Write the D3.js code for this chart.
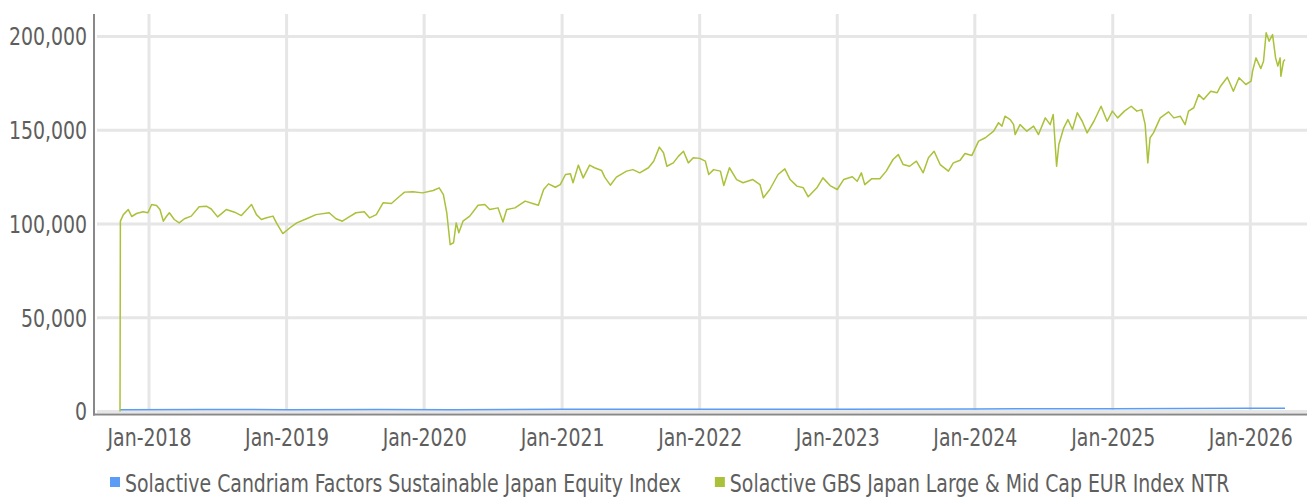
<!DOCTYPE html>
<html>
<head>
<meta charset="utf-8">
<script src="https://cdn.jsdelivr.net/npm/d3@7"></script>
<style>
	body { margin: 0; background: #fff; }
	svg text {
		font-family: 'Liberation Sans Narrow', 'DejaVu Sans Condensed', 'Roboto Condensed', sans-serif;
		font-stretch: condensed;
		fill: #5e5e5e;
		font-size: 24px;
	}
</style>
</head>
<body>
<script>
// data
var seriesNames = [
	'Solactive Candriam Factors Sustainable Japan Equity Index',
	'Solactive GBS Japan Large & Mid Cap EUR Index NTR'
];
var seriesColors = ['#5a9cf6', '#a9c23a'];

var yTicks = [0, 50000, 100000, 150000, 200000];
var xTicks = ['2018-01-01', '2019-01-01', '2020-01-01', '2021-01-01', '2022-01-01',
	'2023-01-01', '2024-01-01', '2025-01-01', '2026-01-01'];

var candriamSeries = [
	['2017-10-16', 1000], ['2018-06-01', 1040], ['2019-01-01', 980], ['2019-09-01', 1060],
	['2020-03-15', 930], ['2021-01-01', 1150], ['2022-01-01', 1230], ['2023-01-01', 1180],
	['2024-01-01', 1400], ['2025-01-01', 1520], ['2026-01-01', 1720], ['2026-04-03', 1700]
];

var gbsSeries = [
	['2017-10-16', 0], ['2017-10-17', 101500], ['2017-10-25', 105000], ['2017-11-07', 107700],
	['2017-11-16', 104000], ['2017-11-29', 105600], ['2017-12-16', 106500], ['2017-12-29', 106000],
	['2018-01-08', 110400], ['2018-01-21', 109900], ['2018-01-30', 107700], ['2018-02-08', 101500],
	['2018-02-16', 104000], ['2018-02-24', 106000], ['2018-03-09', 102400], ['2018-03-22', 100600],
	['2018-04-05', 102800], ['2018-04-23', 104200], ['2018-05-14', 109200], ['2018-06-02', 109500],
	['2018-06-15', 108000], ['2018-07-02', 103800], ['2018-07-25', 107700], ['2018-08-16', 106300],
	['2018-09-03', 104500], ['2018-09-30', 110400], ['2018-10-13', 105000], ['2018-10-26', 102400],
	['2018-11-09', 103300], ['2018-11-26', 104200], ['2018-12-05', 100600], ['2018-12-22', 94900],
	['2019-01-10', 98000], ['2019-01-28', 100600], ['2019-02-23', 102800], ['2019-03-20', 105000],
	['2019-04-24', 106000], ['2019-05-12', 102800], ['2019-05-29', 101500], ['2019-06-16', 103800],
	['2019-07-04', 106000], ['2019-07-26', 106500], ['2019-08-09', 103300], ['2019-08-27', 105000],
	['2019-09-14', 111300], ['2019-10-06', 110900], ['2019-10-28', 114800], ['2019-11-10', 117000],
	['2019-12-02', 117200], ['2019-12-28', 116600], ['2020-01-25', 117900], ['2020-02-10', 119300],
	['2020-02-21', 115700], ['2020-03-01', 106000], ['2020-03-10', 89000], ['2020-03-19', 90000],
	['2020-03-26', 100600], ['2020-04-02', 95300], ['2020-04-13', 101500], ['2020-05-01', 104200],
	['2020-05-23', 110000], ['2020-06-10', 110400], ['2020-06-23', 107700], ['2020-07-15', 108600],
	['2020-07-28', 101100], ['2020-08-07', 107700], ['2020-08-29', 108600], ['2020-09-25', 112200],
	['2020-10-17', 110800], ['2020-10-30', 110000], ['2020-11-13', 118400], ['2020-11-26', 121400],
	['2020-12-14', 119600], ['2020-12-27', 121000], ['2021-01-10', 126400], ['2021-01-23', 126800],
	['2021-01-30', 122000], ['2021-02-13', 131400], ['2021-02-26', 124600], ['2021-03-15', 131400],
	['2021-03-28', 130000], ['2021-04-16', 128500], ['2021-04-24', 125000], ['2021-05-09', 120700],
	['2021-05-25', 125000], ['2021-06-21', 128200], ['2021-07-08', 129000], ['2021-07-26', 127300],
	['2021-08-18', 130000], ['2021-09-01', 133500], ['2021-09-16', 141000], ['2021-09-27', 138000],
	['2021-10-06', 130800], ['2021-10-23', 132600], ['2021-11-06', 136200], ['2021-11-19', 138800],
	['2021-12-02', 132600], ['2021-12-15', 135300], ['2022-01-01', 135000], ['2022-01-16', 133500],
	['2022-01-25', 126400], ['2022-02-07', 129000], ['2022-02-25', 128200], ['2022-03-06', 120500],
	['2022-03-21', 130000], ['2022-04-09', 123700], ['2022-04-26', 122000], ['2022-05-22', 123700],
	['2022-06-10', 121000], ['2022-06-19', 114000], ['2022-07-06', 118400], ['2022-07-28', 126400],
	['2022-08-15', 129400], ['2022-08-29', 123700], ['2022-09-16', 120200], ['2022-10-03', 119300],
	['2022-10-16', 114500], ['2022-11-08', 119300], ['2022-11-24', 124600], ['2022-12-13', 120500],
	['2023-01-01', 118400], ['2023-01-18', 123700], ['2023-02-10', 125200], ['2023-02-23', 122800],
	['2023-03-06', 127300], ['2023-03-15', 121000], ['2023-04-02', 124100], ['2023-04-24', 124100],
	['2023-05-11', 128200], ['2023-05-29', 134400], ['2023-06-12', 137000], ['2023-06-25', 131700],
	['2023-07-12', 130800], ['2023-07-30', 133500], ['2023-08-17', 127300], ['2023-08-31', 135300],
	['2023-09-15', 138800], ['2023-10-01', 131700], ['2023-10-23', 128200], ['2023-11-05', 132600],
	['2023-11-23', 134000], ['2023-12-06', 137600], ['2023-12-24', 136500], ['2024-01-11', 144200],
	['2024-01-29', 146000], ['2024-02-20', 149500], ['2024-03-04', 154000], ['2024-03-13', 152200],
	['2024-03-21', 157500], ['2024-04-04', 155700], ['2024-04-13', 153000], ['2024-04-17', 147700],
	['2024-04-30', 153000], ['2024-05-18', 149500], ['2024-06-05', 152200], ['2024-06-18', 147700],
	['2024-07-06', 156600], ['2024-07-19', 153000], ['2024-07-27', 158400], ['2024-08-05', 130800],
	['2024-08-11', 142400], ['2024-08-24', 151300], ['2024-09-04', 155700], ['2024-09-16', 150400],
	['2024-09-29', 159300], ['2024-10-12', 154800], ['2024-10-25', 148600], ['2024-11-12', 154800],
	['2024-12-01', 162800], ['2024-12-17', 154800], ['2024-12-31', 160200], ['2025-01-14', 156600],
	['2025-02-01', 160200], ['2025-02-19', 162800], ['2025-03-06', 160200], ['2025-03-19', 161000],
	['2025-03-28', 153000], ['2025-04-04', 132600], ['2025-04-10', 146000], ['2025-04-19', 148600],
	['2025-05-07', 156600], ['2025-05-29', 159800], ['2025-06-12', 156600], ['2025-06-29', 157500],
	['2025-07-12', 153000], ['2025-07-21', 160200], ['2025-08-04', 162000], ['2025-08-17', 169000],
	['2025-08-30', 166400], ['2025-09-18', 170800], ['2025-10-05', 170000], ['2025-10-14', 173500],
	['2025-11-01', 178300], ['2025-11-17', 170800], ['2025-12-02', 178000], ['2025-12-20', 174400],
	['2026-01-03', 176200], ['2026-01-07', 181500], ['2026-01-16', 188600], ['2026-01-29', 182900],
	['2026-02-05', 186800], ['2026-02-12', 202000], ['2026-02-20', 197500], ['2026-03-01', 201000],
	['2026-03-09', 188600], ['2026-03-15', 184200], ['2026-03-21', 188600], ['2026-03-23', 178800],
	['2026-03-30', 186800], ['2026-04-03', 187700]
];

var parseDate = d3.timeParse('%Y-%m-%d');

function toPoints (series) {
	return series.map(function (d) { return { date: parseDate(d[0]), value: d[1] }; });
}

var lines = [toPoints(candriamSeries), toPoints(gbsSeries)];

// the reference font is narrower than anything installed, squeeze the glyphs a bit
var squeeze = 0.875;

// chart
var width = 1307;
var height = 498;
var plot = { left: 94, top: 14, bottom: 411.5, right: 1307 };

var svg = d3.select('body')
	.append('svg')
	.attr('width', width)
	.attr('height', height);

var x = d3.scaleTime()
	.domain([parseDate('2017-10-16'), parseDate('2026-04-03')])
	.range([120, 1285]);

var y = d3.scaleLinear()
	.domain([0, 212000])
	.range([plot.bottom, plot.top]);

// grid
svg.append('g')
	.selectAll('line')
	.data(yTicks)
	.enter()
	.append('line')
	.attr('x1', plot.left + 3)
	.attr('x2', plot.right)
	.attr('y1', function (d) { return y(d); })
	.attr('y2', function (d) { return y(d); })
	.attr('stroke', '#e6e6e6')
	.attr('stroke-width', 3);

svg.append('g')
	.selectAll('line')
	.data(xTicks)
	.enter()
	.append('line')
	.attr('x1', function (d) { return x(parseDate(d)); })
	.attr('x2', function (d) { return x(parseDate(d)); })
	.attr('y1', plot.top)
	.attr('y2', plot.bottom)
	.attr('stroke', '#e6e6e6')
	.attr('stroke-width', 3);

// axes
var y_axis = d3.axisLeft(y)
	.tickValues(yTicks)
	.tickSize(0)
	.tickPadding(0)
	.tickFormat(d3.format(','));

svg.append('g')
	.attr('class', 'y axis')
	.attr('transform', 'translate(' + plot.left + ',0)')
	.call(y_axis)
	.call(function (g) { g.select('.domain').remove(); })
	.selectAll('text')
	.attr('font-size', null)
	.attr('font-family', null)
	.attr('x', null)
	.attr('dy', '0.35em')
	.attr('transform', 'translate(-7,0) scale(' + squeeze + ',1)');

var x_axis = d3.axisBottom(x)
	.tickValues(xTicks.map(parseDate))
	.tickSize(0)
	.tickPadding(0)
	.tickFormat(d3.timeFormat('%b-%Y'));

svg.append('g')
	.attr('class', 'x axis')
	.attr('transform', 'translate(0,' + (plot.bottom + 3) + ')')
	.call(x_axis)
	.call(function (g) { g.select('.domain').remove(); })
	.selectAll('text')
	.attr('font-size', null)
	.attr('font-family', null)
	.attr('y', 0)
	.attr('dy', 32)
	.attr('transform', 'scale(' + squeeze + ',1)');

svg.append('line')
	.attr('x1', plot.left)
	.attr('x2', plot.left)
	.attr('y1', plot.top)
	.attr('y2', plot.bottom + 4)
	.attr('stroke', '#888')
	.attr('stroke-width', 2);

svg.append('line')
	.attr('x1', plot.left - 1)
	.attr('x2', plot.right)
	.attr('y1', plot.bottom + 3)
	.attr('y2', plot.bottom + 3)
	.attr('stroke', '#888')
	.attr('stroke-width', 2);

// lines
var line = d3.line()
	.x(function (d) { return x(d.date); })
	.y(function (d) { return y(d.value); });

svg.append('g')
	.selectAll('path')
	.data(lines)
	.enter()
	.append('path')
	.attr('d', line)
	.attr('fill', 'none')
	.attr('stroke', function (d, i) { return seriesColors[i]; })
	.attr('stroke-width', 1.5)
	.attr('stroke-linejoin', 'round');

// legend
var legend = svg.append('g')
	.attr('transform', 'translate(110,0)');

var lx = 0;
seriesNames.forEach(function (name, i) {
	var item = legend.append('g')
		.attr('transform', 'translate(' + lx + ',0)');
	item.append('rect')
		.attr('x', 0)
		.attr('y', 477)
		.attr('width', 10)
		.attr('height', 10)
		.attr('fill', seriesColors[i]);
	var t = item.append('text')
		.attr('transform', 'translate(15,492) scale(' + squeeze + ',1)')
		.text(name);
	lx += 15 + t.node().getComputedTextLength() * squeeze + 34;
});
</script>
</body>
</html>
